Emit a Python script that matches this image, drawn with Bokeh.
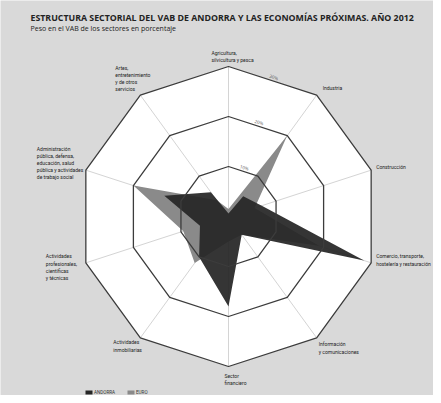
import numpy as np
from bokeh.plotting import figure
from bokeh.models import Range1d
from bokeh.core.properties import value
from bokeh.embed import file_html
from bokeh.resources import INLINE

# ---------------- data ----------------
categories = [
    "Agricultura,\nsilvicultura y pesca",
    "Industria",
    "Construcción",
    "Comercio, transporte,\nhostelería y restauración",
    "Información\ny comunicaciones",
    "Sector\nfinanciero",
    "Actividades\ninmobiliarias",
    "Actividades\nprofesionales,\ncientíficas\ny técnicas",
    "Administración\npública, defensa,\neducación, salud\npública y actividades\nde trabajo social",
    "Artes,\nentretenimiento\ny de otros\nservicios",
]
andorra = [0.6, 5.0, 7.0, 28.5, 4.5, 18.0, 10.0, 6.0, 13.5, 6.0]
euro = [1.5, 20.0, 5.5, 19.0, 4.5, 5.0, 11.5, 9.5, 20.0, 4.0]
rings = [10, 20, 30]
ring_labels = ["10%", "20%", "30%"]
series_names = ["ANDORRA", "EURO"]

title = "ESTRUCTURA SECTORIAL DEL VAB DE ANDORRA Y LAS ECONOMÍAS PRÓXIMAS. AÑO 2012"
subtitle = "Peso en el VAB de los sectores en porcentaje"

# ---------------- layout ----------------
PX = 5.0          # pixels per percentage point
CX, CY = 228, 216 # chart centre in pixels
W, H = 433, 395
FONT = "Open Sans"
LFONT = "Roboto"

def dx(X):
    return (X - CX) / PX

def dy(Y):
    return (CY - Y) / PX

n = len(categories)
ang = np.arange(n) * 2 * np.pi / n

def polar(vals):
    v = np.asarray(vals, dtype=float)
    return list(v * np.sin(ang)), list(v * np.cos(ang))

p = figure(width=W, height=H, output_backend="svg", toolbar_location=None,
           x_range=Range1d(dx(0), dx(W)), y_range=Range1d(dy(H), dy(0)),
           min_border=0, outline_line_color=None)
p.axis.visible = False
p.grid.visible = False
p.background_fill_color = "#d9d9d9"
p.border_fill_color = "#d9d9d9"

# white plot area
ox, oy = polar([rings[-1]] * n)
p.patch(ox, oy, fill_color="white", line_color=None)

# spokes
for a in ang:
    p.line([0, rings[-1] * np.sin(a)], [0, rings[-1] * np.cos(a)],
           line_color="#d4d4d4", line_width=1)

# series
ex, ey = polar(euro)
p.patch(ex, ey, fill_color="#8a8a8a", line_color=None)
ax_, ay_ = polar(andorra)
p.patch(ax_, ay_, fill_color="#262626", fill_alpha=0.93, line_color=None)

# rings on top
for r in rings:
    rx, ry = polar([r] * n)
    p.patch(rx, ry, fill_color=None, line_color="#3c3c3c", line_width=1.3)

# ring labels
a18 = np.pi / 10
for r, lab in zip(rings, ring_labels):
    rr = r * np.cos(a18) + 0.8
    p.text([rr * np.sin(a18)], [rr * np.cos(a18)], text=[lab], angle=-a18,
           text_font=value(FONT), text_font_size="4.5px", text_color="#555555",
           text_align="center", text_baseline="middle")

# category labels (offsets from the outer vertex, in pixels)
label_off = [(-17, -17), (6, -10.5), (5, -6.5), (5, -9.5), (2, 3.5),
             (-4, 6), (-27, 1.5), (-40, -9.5), (-49, -24.5), (-25, -30.5)]
for a, lab, (ox_, oy_) in zip(ang, categories, label_off):
    vx = CX + rings[-1] * PX * np.sin(a)
    vy = CY - rings[-1] * PX * np.cos(a)
    p.text([dx(vx + ox_)], [dy(vy + oy_)], text=[lab],
           text_font=value(LFONT), text_font_size="5px", text_color="#222222",
           text_align="left", text_baseline="top", text_line_height=1.2)

# title & subtitle
p.text([dx(30)], [dy(17)], text=[title], text_font=value(FONT),
       text_font_size="8.8px", text_font_style="bold", text_color="#222222",
       text_align="left", text_baseline="middle")
p.text([dx(30)], [dy(28)], text=[subtitle], text_font=value(FONT),
       text_font_size="7px", text_color="#222222",
       text_align="left", text_baseline="middle")

# legend
leg_colors = ["#262626", "#8a8a8a"]
leg_x = [85, 127]
for X, c, name in zip(leg_x, leg_colors, series_names):
    p.rect([dx(X + 3.5)], [dy(392)], width=7 / PX, height=4 / PX,
           fill_color=c, line_color=None)
    p.text([dx(X + 8.5)], [dy(392)], text=[name], text_font=value(LFONT),
           text_font_size="4.6px", text_color="#333333",
           text_align="left", text_baseline="middle")

open("out.html", "w").write(file_html(p, INLINE))
